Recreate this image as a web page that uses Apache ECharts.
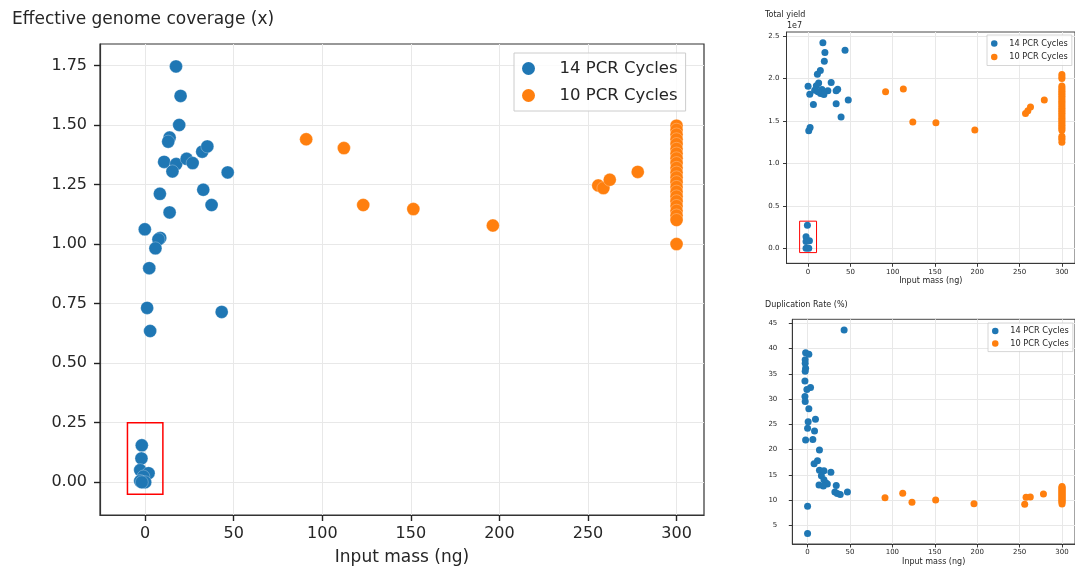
<!DOCTYPE html>
<html>
<head>
<meta charset="utf-8">
<script src="https://cdn.jsdelivr.net/npm/echarts@6/dist/echarts.min.js"></script>
<style>
  html, body { margin: 0; padding: 0; background: #ffffff; }
  #chart { width: 1075px; height: 571px; }
</style>
</head>
<body>
<div id="chart"></div>
<script>
// Series labels
const seriesNames = ['14 PCR Cycles', '10 PCR Cycles'];

// Effective genome coverage (x) vs input mass (ng)
const coverage14 = [
  [17.4, 1.746], [20.0, 1.622], [19.2, 1.50], [13.8, 1.447], [13.0, 1.430],
  [10.7, 1.345], [17.5, 1.336], [15.4, 1.305], [23.4, 1.358], [26.8, 1.340],
  [32.2, 1.388], [35.1, 1.410], [46.6, 1.301], [32.8, 1.228], [37.5, 1.164],
  [8.3, 1.211], [13.8, 1.133], [-0.2, 1.062], [8.5, 1.026], [7.5, 1.020],
  [5.8, 0.982], [2.3, 0.899], [1.1, 0.732], [2.8, 0.635], [43.2, 0.715],
  [-1.9, 0.155], [-2.1, 0.100], [-2.8, 0.051], [1.9, 0.038], [-1.0, 0.024],
  [-2.8, 0.005], [0.0, 0.0], [-1.9, 0.0]
];
const coverage10 = [
  [90.9, 1.44], [112.2, 1.403], [123.1, 1.164], [151.4, 1.147], [196.3, 1.078],
  [255.8, 1.246], [258.7, 1.235], [262.3, 1.27], [278.1, 1.303],
  [300, 1.497], [300, 1.48], [300, 1.46], [300, 1.44], [300, 1.42], [300, 1.40],
  [300, 1.38], [300, 1.36], [300, 1.34], [300, 1.32], [300, 1.30], [300, 1.28],
  [300, 1.26], [300, 1.24], [300, 1.22], [300, 1.20], [300, 1.18], [300, 1.16],
  [300, 1.14], [300, 1.12], [300, 1.101], [300, 1.00]
];

// Total yield vs input mass (ng)
const yield14 = [
  [17.5, 2.419e7], [43.7, 2.333e7], [19.9, 2.306e7], [19.2, 2.204e7], [14.5, 2.094e7],
  [11.0, 2.05e7], [27.3, 1.953e7], [12.5, 1.948e7], [0.0, 1.909e7], [9.8, 1.913e7],
  [7.8, 1.862e7], [16.4, 1.871e7], [23.4, 1.854e7], [35.0, 1.874e7], [33.2, 1.854e7],
  [2.0, 1.815e7], [14.8, 1.823e7], [18.7, 1.812e7], [11.7, 1.843e7], [6.3, 1.694e7],
  [33.2, 1.702e7], [47.5, 1.745e7], [39.0, 1.545e7], [2.4, 1.424e7], [0.8, 1.384e7],
  [-0.8, 0.271e7], [-2.4, 0.137e7], [1.6, 0.09e7], [-2.4, 0.08e7], [-2.4, 0.0], [0.8, 0.0]
];
const yield10 = [
  [91.6, 1.843e7], [112.6, 1.875e7], [123.8, 1.486e7], [151.1, 1.478e7], [197.1, 1.392e7],
  [257.0, 1.588e7], [259.8, 1.62e7], [262.9, 1.663e7], [279.2, 1.745e7],
  [300, 2.047e7], [300, 2.02e7], [300, 2.00e7], [300, 1.91e7], [300, 1.89e7], [300, 1.87e7],
  [300, 1.85e7], [300, 1.83e7], [300, 1.81e7], [300, 1.79e7], [300, 1.77e7], [300, 1.75e7],
  [300, 1.73e7], [300, 1.71e7], [300, 1.69e7], [300, 1.67e7], [300, 1.65e7], [300, 1.63e7],
  [300, 1.61e7], [300, 1.59e7], [300, 1.57e7], [300, 1.55e7], [300, 1.53e7], [300, 1.51e7],
  [300, 1.49e7], [300, 1.47e7], [300, 1.45e7], [300, 1.43e7], [300, 1.41e7], [300, 1.39e7],
  [300, 1.32e7], [300, 1.30e7], [300, 1.28e7], [300, 1.25e7]
];

// Duplication rate (%) vs input mass (ng)
const dup14 = [
  [43.1, 43.7], [-2.3, 39.2], [1.5, 38.9], [-2.8, 37.8], [-2.8, 37.1], [-2.3, 36.1],
  [-2.8, 35.5], [-3.1, 33.6], [3.5, 32.3], [-0.8, 31.9], [-3.1, 30.5], [-2.8, 29.5],
  [1.5, 28.1], [9.3, 26.0], [0.7, 25.5], [8.2, 23.7], [0.0, 24.2], [-2.3, 21.9],
  [6.2, 22.0], [14.0, 19.9], [11.7, 17.8], [7.7, 17.2], [14.0, 15.9], [19.3, 15.8],
  [27.5, 15.5], [16.3, 14.8], [19.3, 14.0], [21.7, 13.4], [23.3, 13.2], [13.5, 13.0],
  [18.6, 12.8], [33.8, 12.9], [32.2, 11.6], [35.0, 11.3], [38.5, 11.1], [47.0, 11.6],
  [0.0, 8.8], [0.0, 3.4]
];
const dup10 = [
  [91.3, 10.47], [112.2, 11.33], [123.1, 9.55], [151.0, 10.0], [196.2, 9.28],
  [256.0, 9.15], [257.6, 10.54], [262.6, 10.6], [278.1, 11.2],
  [300, 12.7], [300, 12.5], [300, 12.3], [300, 12.1], [300, 11.9], [300, 11.7],
  [300, 11.5], [300, 11.3], [300, 11.1], [300, 10.9], [300, 10.7], [300, 10.5],
  [300, 10.3], [300, 10.1], [300, 9.9], [300, 9.7], [300, 9.5], [300, 9.2]
];

// Low-input samples outlined in red: [xMin, xMax, yMin, yMax]
const lowInputCoverageBox = [-10, 10, -0.05, 0.25];
const lowInputYieldBox = [-10, 10, -0.05e7, 0.32e7];

// Tick labels
const massTicks = [0, 50, 100, 150, 200, 250, 300];
const coverageTicks = [0, 0.25, 0.5, 0.75, 1.0, 1.25, 1.5, 1.75];
const yieldTicks = [0, 0.5e7, 1.0e7, 1.5e7, 2.0e7, 2.5e7];
const dupTicks = [5, 10, 15, 20, 25, 30, 35, 40, 45];

const BLUE = '#1f77b4';
const ORANGE = '#ff7f0e';
const FONT = 'DejaVu Sans';
const INK = '#262626';
const SPINE = '#333333';
const TICK = '#222222';
const GRIDLINE = '#e8e8e8';

function xAxisFor(gridIndex, min, max, big) {
  return {
    type: 'value', gridIndex, min, max,
    name: 'Input mass (ng)', nameLocation: 'middle',
    nameGap: big ? 34 : 14,
    nameTextStyle: { fontFamily: FONT, fontSize: big ? 17 : 8, color: INK },
    axisLine: { show: true, onZero: false, lineStyle: { color: SPINE, width: big ? 1.2 : 0.9 } },
    axisTick: { show: true, customValues: massTicks, length: big ? 6 : 3.5,
      lineStyle: { color: TICK, width: big ? 1.4 : 0.9 } },
    axisLabel: { customValues: massTicks, margin: big ? 11 : 5,
      fontFamily: FONT, fontSize: big ? 16 : 7, color: INK },
    splitLine: { show: true, lineStyle: { color: GRIDLINE, width: 1 } }
  };
}

function yAxisFor(gridIndex, min, max, ticks, fmt, big, margin) {
  return {
    type: 'value', gridIndex, min, max,
    axisLine: { show: true, onZero: false, lineStyle: { color: SPINE, width: big ? 1.2 : 0.9 } },
    axisTick: { show: true, customValues: ticks, length: big ? 6 : 3.5,
      lineStyle: { color: TICK, width: big ? 1.4 : 0.9 } },
    axisLabel: { customValues: ticks, margin, formatter: fmt,
      fontFamily: FONT, fontSize: big ? 16 : 7, color: INK },
    splitLine: { show: true, lineStyle: { color: GRIDLINE, width: 1 } }
  };
}

function boxArea(b, width) {
  return {
    silent: true,
    itemStyle: { color: 'rgba(0,0,0,0)', borderColor: '#ff0000', borderWidth: width },
    data: [[{ coord: [b[0], b[2]] }, { coord: [b[1], b[3]] }]]
  };
}

function scatter(name, data, color, xi, size, extra) {
  return Object.assign({
    name, type: 'scatter', xAxisIndex: xi, yAxisIndex: xi, data,
    symbolSize: size,
    itemStyle: { color, borderColor: 'rgba(255,255,255,0.45)', borderWidth: size > 10 ? 0.6 : 0, opacity: 1 },
    emphasis: { disabled: true }
  }, extra || {});
}

function legendAt(left, top, opts) {
  return Object.assign({
    data: seriesNames, orient: 'vertical', left, top,
    icon: 'circle', backgroundColor: 'rgba(255,255,255,0.8)',
    borderColor: '#cccccc', borderWidth: 1, selectedMode: false,
    itemStyle: { borderWidth: 0 }
  }, opts);
}

const chart = echarts.init(document.getElementById('chart'), null, { renderer: 'canvas' });

chart.setOption({
  animation: false,
  backgroundColor: '#ffffff',
  textStyle: { fontFamily: FONT },
  title: [
    { text: 'Effective genome coverage (x)', left: 12, top: 10, padding: 0,
      textStyle: { fontFamily: FONT, fontSize: 17, fontWeight: 'normal', color: INK, lineHeight: 20 } },
    { text: 'Total yield', left: 765, top: 10, padding: 0,
      textStyle: { fontFamily: FONT, fontSize: 8, fontWeight: 'normal', color: INK, lineHeight: 10 } },
    { text: '1e7', left: 787, top: 21, padding: 0,
      textStyle: { fontFamily: FONT, fontSize: 8, fontWeight: 'normal', color: INK, lineHeight: 10 } },
    { text: 'Duplication Rate (%)', left: 765, top: 300, padding: 0,
      textStyle: { fontFamily: FONT, fontSize: 8, fontWeight: 'normal', color: INK, lineHeight: 10 } }
  ],
  grid: [
    { left: 100, top: 44, width: 604, height: 474, show: true, borderColor: SPINE, borderWidth: 1.2 },
    { left: 786.5, top: 32, width: 292, height: 231.3, show: true, borderColor: SPINE, borderWidth: 0.9 },
    { left: 792.3, top: 319.3, width: 286, height: 224.7, show: true, borderColor: SPINE, borderWidth: 0.9 }
  ],
  xAxis: [
    xAxisFor(0, -25.5, 315.5, true),
    xAxisFor(1, -25.5, 315.5, false),
    xAxisFor(2, -18, 315.3, false)
  ],
  yAxis: [
    yAxisFor(0, -0.1375, 1.84, coverageTicks, v => v.toFixed(2), true, 13),
    yAxisFor(1, -0.176e7, 2.547e7, yieldTicks, v => (v / 1e7).toFixed(1), false, 7),
    yAxisFor(2, 1.3, 45.8, dupTicks, v => String(Math.round(v)), false, 15)
  ],
  legend: [
    legendAt(514, 53, { padding: [6, 8, 6, 8], itemGap: 8, itemWidth: 30, itemHeight: 13,
      textStyle: { fontFamily: FONT, fontSize: 16.5, color: INK, lineHeight: 19, padding: [0, 0, 0, 11] } }),
    legendAt(987, 35, { padding: [3, 4, 3, 4], itemGap: 2.5, itemWidth: 14.6, itemHeight: 6.5,
      borderWidth: 0.8,
      textStyle: { fontFamily: FONT, fontSize: 8.2, color: INK, lineHeight: 11, padding: [0, 0, 0, 2.7] } }),
    legendAt(988, 323, { padding: [2.5, 4, 2.5, 4], itemGap: 1.6, itemWidth: 14.6, itemHeight: 6.5,
      borderWidth: 0.8,
      textStyle: { fontFamily: FONT, fontSize: 8.2, color: INK, lineHeight: 11, padding: [0, 0, 0, 2.7] } })
  ],
  series: [
    scatter(seriesNames[0], coverage14, BLUE, 0, 13, { markArea: boxArea(lowInputCoverageBox, 1.5) }),
    scatter(seriesNames[1], coverage10, ORANGE, 0, 13),
    scatter(seriesNames[0], yield14, BLUE, 1, 7, { markArea: boxArea(lowInputYieldBox, 1) }),
    scatter(seriesNames[1], yield10, ORANGE, 1, 7),
    scatter(seriesNames[0], dup14, BLUE, 2, 7),
    scatter(seriesNames[1], dup10, ORANGE, 2, 7)
  ]
});
</script>
</body>
</html>
